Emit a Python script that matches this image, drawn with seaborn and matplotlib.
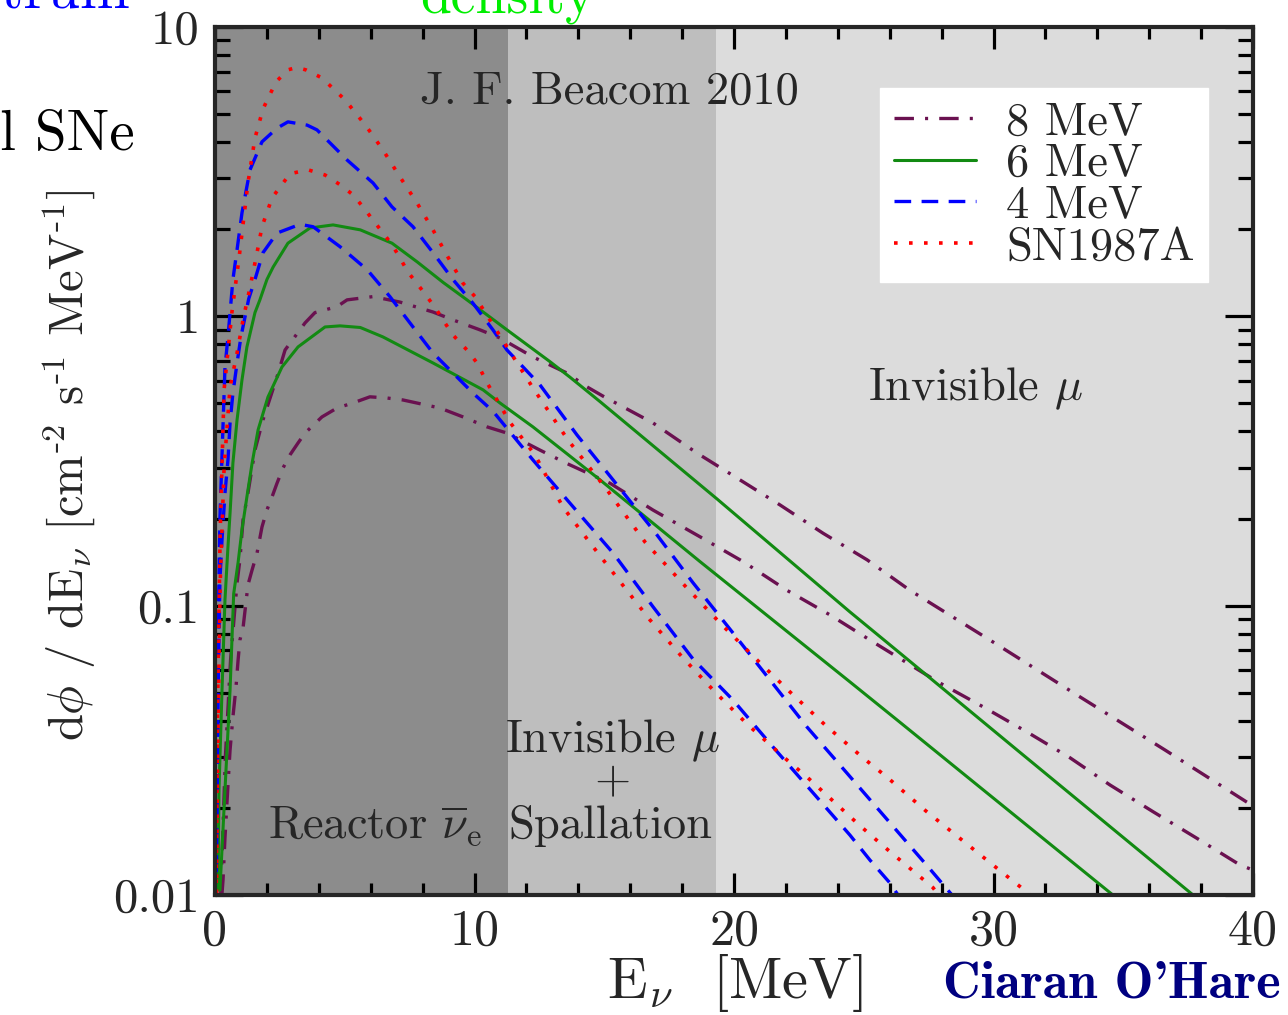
import matplotlib
matplotlib.use("Agg")
import matplotlib.pyplot as plt
import seaborn as sns
from matplotlib.lines import Line2D
from matplotlib.ticker import LogLocator, NullFormatter, MultipleLocator

# ---------------- data ----------------
E_8hi = [0.22, 0.40, 0.60, 0.85, 0.96, 1.08, 1.27, 1.54, 1.85, 2.39, 2.70, 3.47, 3.85, 4.70, 5.09, 6.09,
         7.13, 8.40, 9.17, 10.21, 10.98, 12.25, 13.56, 14.34, 14.95, 16.88, 18.57, 20.12, 21.77, 23.43,
         25.13, 26.78, 29.98, 33.33, 36.61, 40.0]
F_8hi = [0.01, 0.03, 0.065, 0.120, 0.144, 0.198, 0.245, 0.345, 0.439, 0.618, 0.765, 0.949, 1.03, 1.08,
         1.14, 1.17, 1.12, 1.035, 0.972, 0.898, 0.842, 0.724, 0.637, 0.570, 0.53, 0.428, 0.337, 0.276,
         0.223, 0.178, 0.144, 0.113, 0.0749, 0.0484, 0.0317, 0.0203]

E_8lo = [0.27, 0.31, 0.385, 0.50, 0.58, 0.69, 0.81, 0.89, 0.96, 1.08, 1.16, 1.27, 1.43, 1.62, 1.81, 2.00,
         2.20, 2.39, 2.62, 2.89, 3.20, 3.47, 4.12, 4.70, 5.32, 5.97, 6.63, 7.24, 8.67, 9.56, 10.48, 11.25,
         12.52, 13.56, 15.22, 16.88, 18.69, 20.35, 22.04, 23.70, 25.36, 27.86, 29.60, 31.29, 32.95, 34.49,
         36.15, 37.84, 39.50, 40.0]
F_8lo = [0.0101, 0.0113, 0.0158, 0.024, 0.0317, 0.0412, 0.0524, 0.0649, 0.0761, 0.0837, 0.0966, 0.118,
         0.133, 0.152, 0.187, 0.214, 0.238, 0.265, 0.299, 0.332, 0.365, 0.395, 0.449, 0.482, 0.502, 0.527,
         0.522, 0.514, 0.482, 0.449, 0.415, 0.395, 0.345, 0.31, 0.265, 0.214, 0.173, 0.142, 0.113, 0.0929,
         0.0749, 0.0545, 0.0447, 0.0366, 0.0298, 0.0240, 0.0194, 0.0157, 0.0127, 0.0122]

E_6hi = [0.116, 0.154, 0.27, 0.385, 0.50, 0.58, 0.69, 0.85, 1.04, 1.23, 1.54, 1.73, 2.00, 2.24, 2.81, 3.66,
         4.55, 5.60, 6.82, 7.80, 8.79, 9.71, 11.25, 12.91, 13.68, 14.84, 19.34, 24.47, 26.40, 30.91, 37.69,
         38.00]
F_6hi = [0.0104, 0.0231, 0.0511, 0.105, 0.16, 0.209, 0.311, 0.439, 0.603, 0.784, 1.03, 1.14, 1.34, 1.48,
         1.79, 2.02, 2.07, 1.99, 1.79, 1.54, 1.31, 1.14, 0.898, 0.697, 0.616, 0.507, 0.234, 0.0951, 0.0685,
         0.0317, 0.0100, 0.0097]

E_6lo = [0.19, 0.385, 0.58, 0.72, 0.89, 1.04, 1.23, 1.43, 1.66, 2.04, 2.58, 3.20, 4.24, 4.82, 5.60, 6.47,
         8.40, 10.33, 10.98, 12.25, 14.84, 18.69, 24.47, 26.40, 29.60, 34.60, 34.90]
F_6lo = [0.0104, 0.0231, 0.0511, 0.11, 0.141, 0.183, 0.238, 0.311, 0.405, 0.526, 0.668, 0.784, 0.919,
         0.927, 0.915, 0.849, 0.690, 0.557, 0.502, 0.415, 0.272, 0.142, 0.0545, 0.0395, 0.0231, 0.0100,
         0.0097]

E_4hi = [0.05, 0.12, 0.19, 0.27, 0.385, 0.50, 0.69, 0.85, 1.04, 1.35, 1.81, 2.39, 2.81, 3.55, 3.93, 5.09,
         6.09, 6.82, 7.63, 8.40, 9.17, 9.94, 10.71, 11.25, 12.52, 13.95, 15.34, 16.88, 18.42, 19.96, 21.39,
         22.81, 24.35, 27.55, 28.40, 28.70]
F_4hi = [0.012, 0.08, 0.2, 0.33, 0.668, 0.85, 1.34, 1.7, 2.28, 3.21, 4.01, 4.47, 4.70, 4.58, 4.41, 3.47,
         2.89, 2.39, 2.04, 1.66, 1.34, 1.11, 0.898, 0.765, 0.580, 0.389, 0.272, 0.183, 0.120, 0.0805,
         0.0553, 0.0381, 0.0264, 0.0123, 0.0100, 0.0095]

E_4lo = [0.05, 0.12, 0.19, 0.27, 0.385, 0.50, 0.58, 0.69, 0.85, 1.00, 1.30, 1.54, 1.85, 2.39, 3.28, 3.78,
         4.82, 5.86, 6.74, 7.63, 8.40, 9.17, 9.94, 10.71, 12.25, 13.68, 15.34, 16.88, 18.42, 19.96, 21.50,
         24.47, 25.24, 26.01, 26.32, 26.60]
F_4lo = [0.012, 0.05, 0.123, 0.169, 0.245, 0.319, 0.428, 0.543, 0.690, 0.85, 1.15, 1.34, 1.66, 1.94,
         2.08, 2.04, 1.74, 1.45, 1.17, 0.919, 0.747, 0.637, 0.543, 0.47, 0.319, 0.226, 0.152, 0.0991,
         0.0654, 0.0472, 0.0325, 0.0161, 0.0132, 0.0110, 0.0100, 0.0095]

E_snhi = [0.05, 0.10, 0.20, 0.35, 0.65, 0.93, 1.27, 1.54, 1.85, 2.35, 2.81, 3.15, 3.50, 4.12, 5.01, 5.82,
          6.47, 7.13, 7.78, 8.40, 8.98, 9.56, 10.02, 10.64, 12.25, 13.60, 15.11, 16.57, 18.19, 19.54, 20.89,
          22.16, 23.51, 24.97, 25.93, 27.40, 30.37, 31.37, 31.70]
F_snhi = [0.011, 0.045, 0.18, 0.557, 1.03, 1.60, 2.89, 4.13, 5.21, 6.46, 7.11, 7.25, 7.11, 6.67, 5.60,
          4.55, 3.76, 3.03, 2.47, 1.99, 1.60, 1.30, 1.17, 0.957, 0.566, 0.374, 0.251, 0.166, 0.115, 0.0857,
          0.0649, 0.0503, 0.0387, 0.0298, 0.0254, 0.0195, 0.0119, 0.0101, 0.0095]

E_snlo = [0.05, 0.10, 0.20, 0.35, 0.58, 0.85, 1.08, 1.35, 1.62, 1.81, 2.20, 2.89, 3.58, 4.24, 4.82, 5.32,
          5.70, 6.09, 6.44, 6.82, 7.13, 7.44, 7.78, 8.17, 8.55, 8.86, 9.17, 9.71, 10.10, 10.48, 11.37, 12.33,
          13.41, 14.45, 15.61, 16.76, 18.00, 19.27, 20.54, 22.04, 22.85, 24.78, 25.74, 27.67, 27.95]
F_snlo = [0.008, 0.03, 0.12, 0.30, 0.570, 0.747, 0.972, 1.26, 1.66, 2.04, 2.57, 3.11, 3.21, 3.08, 2.85,
          2.63, 2.39, 2.15, 1.96, 1.77, 1.59, 1.42, 1.30, 1.17, 1.05, 0.949, 0.862, 0.765, 0.690, 0.59, 0.43,
          0.332, 0.219, 0.165, 0.121, 0.0893, 0.0665, 0.0503, 0.0387, 0.0293, 0.0254, 0.0176, 0.0148,
          0.0106, 0.0098]

legend_labels = ["8 MeV", "6 MeV", "4 MeV", "SN1987A"]
region_edges = [0, 11.3, 19.3, 40]
region_colors = ["#8c8c8c", "#bebebe", "#dcdcdc"]
xtick_vals = [0, 10, 20, 30, 40]
xtick_labels = ["0", "10", "20", "30", "40"]
ytick_vals = [0.01, 0.1, 1, 10]
ytick_labels = ["0.01", "0.1", "1", "10"]

# ---------------- style ----------------
sns.set_style("ticks")
plt.rcParams["font.family"] = ["cmr10", "DejaVu Serif"]
plt.rcParams["mathtext.fontset"] = "cm"
plt.rcParams["axes.formatter.use_mathtext"] = True
plt.rcParams["lines.scale_dashes"] = False

C_PURPLE = "#6a1150"
C_GREEN = "#128a12"
C_BLUE = "#0000ff"
C_RED = "#ff0000"
LS_PURPLE = (0, (14, 8, 2.2, 8))
LS_GREEN = "-"
LS_BLUE = (0, (12, 7.5))
LS_RED = (0, (2.6, 8.2))

fig = plt.figure(figsize=(12.88, 10.15), dpi=100)
ax = fig.add_axes([215 / 1288, 1 - 895 / 1015, 1038 / 1288, 868 / 1015])

for i, c in enumerate(region_colors):
    ax.axvspan(region_edges[i], region_edges[i + 1], color=c, lw=0, zorder=0)

curves = [
    (E_8hi, F_8hi, C_PURPLE, LS_PURPLE, 2.4),
    (E_8lo, F_8lo, C_PURPLE, LS_PURPLE, 2.4),
    (E_6hi, F_6hi, C_GREEN, LS_GREEN, 2.2),
    (E_6lo, F_6lo, C_GREEN, LS_GREEN, 2.2),
    (E_4hi, F_4hi, C_BLUE, LS_BLUE, 2.4),
    (E_4lo, F_4lo, C_BLUE, LS_BLUE, 2.4),
    (E_snhi, F_snhi, C_RED, LS_RED, 2.6),
    (E_snlo, F_snlo, C_RED, LS_RED, 2.6),
]
for ex, fy, col, ls, lw in curves:
    sns.lineplot(x=ex, y=fy, ax=ax, color=col, linestyle=ls, linewidth=lw,
                 estimator=None, sort=False, legend=False, zorder=3)

ax.set_yscale("log")
ax.set_xlim(0, 40)
ax.set_ylim(0.01, 10)

ax.set_xticks(xtick_vals)
ax.set_xticklabels(xtick_labels)
ax.xaxis.set_minor_locator(MultipleLocator(2))
ax.set_yticks(ytick_vals)
ax.set_yticklabels(ytick_labels)
ax.yaxis.set_minor_locator(LogLocator(base=10, subs=range(2, 10)))
ax.yaxis.set_minor_formatter(NullFormatter())

ax.tick_params(axis="both", which="both", direction="in", top=True, right=True,
               width=2.3, color="black")
ax.tick_params(axis="x", which="major", length=16, pad=10, labelsize=36)
ax.tick_params(axis="x", which="minor", length=8.5)
ax.tick_params(axis="y", which="major", length=20, pad=11, labelsize=35)
ax.tick_params(axis="y", which="minor", length=10.5)
for sp in ax.spines.values():
    sp.set_linewidth(3)
    sp.set_zorder(5)

ax.set_xlabel(r"E$_\nu$  [MeV]", fontsize=42)
ax.xaxis.set_label_coords(0.501, -0.066)

ylab_hyphen = r"d$\phi$ / dE$_\nu$ [cm$^{\text{-}2}$ s$^{\text{-}1}$ MeV$^{\text{-}1}$]"
ylab_plain = r"d$\phi$ / dE$_\nu$ [cm$^{-2}$ s$^{-1}$ MeV$^{-1}$]"
ylab = ax.set_ylabel(ylab_hyphen, fontsize=35)
try:
    fig.canvas.draw()
except Exception:
    ylab.set_text(ylab_plain)
    ylab.set_fontsize(32)
ax.yaxis.set_label_coords(-0.113, 0.495)

# annotations
ax.text(7.9, 5.42, "J. F. Beacom 2010", fontsize=33.5, ha="left", va="baseline", zorder=4)
ax.text(25.16, 0.514, r"Invisible $\mu$", fontsize=33.5, ha="left", va="baseline", zorder=4)
ax.text(15.3, 0.0312, r"Invisible $\mu$", fontsize=33.5, ha="center", va="baseline", zorder=4)
ax.text(15.3, 0.02254, "+", fontsize=33.5, ha="center", va="baseline", zorder=4)
ax.text(15.22, 0.01574, "Spallation", fontsize=33.5, ha="center", va="baseline", zorder=4)
ax.text(2.04, 0.01574, r"Reactor $\overline{\nu}_\mathrm{e}$", fontsize=33.5, ha="left",
        va="baseline", zorder=4)

# legend
handles = [
    Line2D([], [], color=C_PURPLE, linestyle=LS_PURPLE, linewidth=2.4),
    Line2D([], [], color=C_GREEN, linestyle=LS_GREEN, linewidth=2.2),
    Line2D([], [], color=C_BLUE, linestyle=LS_BLUE, linewidth=2.4),
    Line2D([], [], color=C_RED, linestyle=LS_RED, linewidth=2.6),
]
leg = ax.legend(handles, legend_labels, loc="upper left", bbox_to_anchor=(0.641, 0.930),
                fontsize=33.5, frameon=True, fancybox=False, edgecolor="white", facecolor="white",
                framealpha=1, borderpad=0.3, labelspacing=0.0, handlelength=1.75,
                handletextpad=0.65, borderaxespad=0)
leg.set_zorder(6)

# cut-off texts from the surrounding slide
fig.text(130 / 1288, 1 - 8 / 1015, "Spectrum", color="#0000ff", fontsize=43, ha="right", va="baseline")
fig.text(420 / 1288, 1 - 12 / 1015, "density", color="#00ee00", fontsize=40, ha="left", va="baseline")
fig.text(135 / 1288, 1 - 150 / 1015, "all SNe", color="black", fontsize=41, ha="right", va="baseline")
fig.text(1281 / 1288, 1 - 997 / 1015, "Ciaran O'Hare", color="#000080", fontsize=37.5,
         family=["cmb10", "DejaVu Serif"], ha="right", va="baseline")

fig.savefig("out.png", dpi=100)
